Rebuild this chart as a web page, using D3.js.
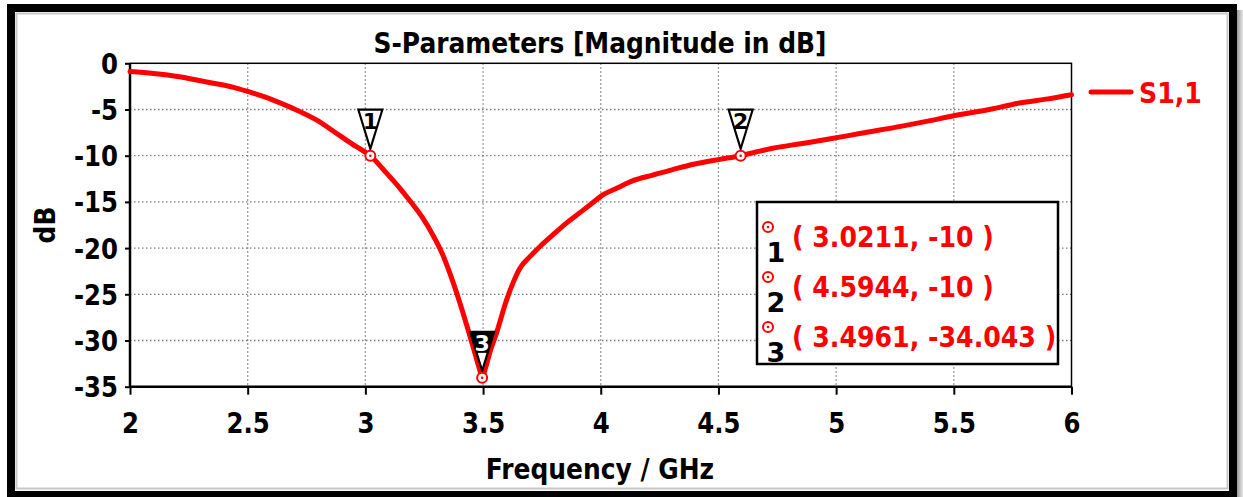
<!DOCTYPE html>
<html>
<head>
<meta charset="utf-8">
<script src="https://cdn.jsdelivr.net/npm/d3@7"></script>
<style>
  html, body { margin: 0; padding: 0; background: #fff; overflow: hidden; }
  svg text { font-family: "DejaVu Sans", Verdana, sans-serif; font-weight: bold; }
</style>
</head>
<body>
<svg id="chart" width="1243" height="497"></svg>
<script>
// S11 reflection coefficient sweep (frequency in GHz, magnitude in dB)
const freqGHz = [
  2.00, 2.10, 2.21, 2.32, 2.44, 2.50, 2.60, 2.69, 2.79, 2.89, 2.96, 3.0211,
  3.08, 3.146, 3.19, 3.24, 3.287, 3.33, 3.36, 3.40, 3.43, 3.46, 3.486, 3.4961,
  3.51, 3.53, 3.557, 3.60, 3.63, 3.656, 3.70, 3.741, 3.80, 3.854, 3.92, 3.98, 4.00,
  4.07, 4.137, 4.22, 4.306, 4.40, 4.505, 4.5944, 4.66, 4.73, 4.85, 4.97, 5.10,
  5.28, 5.40, 5.495, 5.65, 5.78, 5.90, 6.00
];
const s11dB = [
  -0.9, -1.1, -1.45, -2.0, -2.6, -3.05, -3.9, -4.85, -6.1, -7.8, -9.0, -10,
  -11.6, -13.5, -14.9, -16.6, -18.6, -20.8, -22.8, -25.8, -28.3, -30.9, -33.2, -34.043,
  -33.0, -31.2, -29.2, -25.6, -23.6, -22.2, -20.9, -19.85, -18.5, -17.3, -16.0, -14.8, -14.4,
  -13.5, -12.7, -12.1, -11.5, -10.9, -10.4, -10, -9.6, -9.2, -8.7, -8.2, -7.6,
  -6.8, -6.2, -5.7, -5.0, -4.3, -3.85, -3.4
];

const xTicks = [2, 2.5, 3, 3.5, 4, 4.5, 5, 5.5, 6];
const yTicks = [0, -5, -10, -15, -20, -25, -30, -35];

// Markers placed on the trace
const markerIds = ["1", "2", "3"];
const markerFreq = [3.0211, 4.5944, 3.4961];
const markerDb = [-10, -10, -34.043];

const titleText = "S-Parameters [Magnitude in dB]";
const xLabel = "Frequency / GHz";
const yLabel = "dB";
const seriesName = "S1,1";

const RED = "#ff0000";
const svg = d3.select("#chart");

// Horizontal squeeze so the wide sans face sets like a narrow bold UI face
function squeeze(sel, k) {
  sel.each(function () {
    const w = this.getComputedTextLength();
    this.setAttribute("textLength", (w * k).toFixed(1));
    this.setAttribute("lengthAdjust", "spacingAndGlyphs");
  });
}
const K = 0.87;

// Window-like frame
svg.append("rect").attr("width", 1243).attr("height", 497).attr("fill", "#fff");
const shade = svg.append("defs").append("linearGradient").attr("id", "shade");
shade.append("stop").attr("offset", "0%").attr("stop-color", "#9a9a9a");
shade.append("stop").attr("offset", "100%").attr("stop-color", "#e8e8e8");
svg.append("rect").attr("x", 1237).attr("y", 10).attr("width", 6).attr("height", 487).attr("fill", "url(#shade)");
svg.append("rect").attr("x", 16.5).attr("y", 13.5).attr("width", 1211).attr("height", 475)
  .attr("fill", "none").attr("stroke", "#c8c8c8").attr("stroke-width", 2);
svg.append("rect").attr("x", 11).attr("y", 8).attr("width", 1222).attr("height", 487)
  .attr("fill", "none").attr("stroke", "#000").attr("stroke-width", 8);

const x = d3.scaleLinear().domain([2, 6]).range([130, 1071.5]);
const y = d3.scaleLinear().domain([-35, 0]).range([386.7, 63.3]);
const [x0, x1] = x.range();
const [y0, y1] = y.range();

// Dotted grid
const grid = svg.append("g").attr("stroke", "#7a7a7a").attr("stroke-width", 1.3)
  .attr("stroke-dasharray", "1.5,2.5");
grid.selectAll("line.v").data(xTicks.filter(v => v > 2 && v < 6)).join("line")
  .attr("x1", d => x(d)).attr("x2", d => x(d)).attr("y1", y1).attr("y2", y0);
grid.selectAll("line.h").data(yTicks.filter(v => v < 0 && v > -35)).join("line")
  .attr("x1", x0).attr("x2", x1).attr("y1", d => y(d)).attr("y2", d => y(d));

// Axes
const yAxis = svg.append("g").attr("transform", `translate(${x0},0)`)
  .call(d3.axisLeft(y).tickValues(yTicks).tickFormat(d => String(d))
    .tickSize(5).tickSizeOuter(0).tickPadding(7));
const xAxis = svg.append("g").attr("transform", `translate(0,${y0})`)
  .call(d3.axisBottom(x).tickValues(xTicks).tickFormat(d => String(d))
    .tickSize(8).tickSizeOuter(0).tickPadding(18));
[yAxis, xAxis].forEach(a => {
  a.select(".domain").remove();
  a.selectAll(".tick line").attr("stroke", "#000").attr("stroke-width", 2);
  a.selectAll(".tick text").attr("fill", "#000").attr("font-size", 28)
    .style("font-family", "'DejaVu Sans', Verdana, sans-serif").style("font-weight", "bold");
});
yAxis.selectAll(".tick text").attr("dy", "0.36em");
squeeze(yAxis.selectAll(".tick text"), K);
squeeze(xAxis.selectAll(".tick text"), K);

// Plot box
svg.append("rect").attr("x", x0).attr("y", y1).attr("width", x1 - x0).attr("height", y0 - y1)
  .attr("fill", "none").attr("stroke", "#000").attr("stroke-width", 1.5);
svg.append("line").attr("x1", x0).attr("x2", x0).attr("y1", y1).attr("y2", y0)
  .attr("stroke", "#000").attr("stroke-width", 2.5);
svg.append("line").attr("x1", x0).attr("x2", x1).attr("y1", y0).attr("y2", y0)
  .attr("stroke", "#000").attr("stroke-width", 2.5);

// Trace
const line = d3.line().x((d, i) => x(freqGHz[i])).y((d, i) => y(s11dB[i])).curve(d3.curveMonotoneX);
svg.append("path").attr("d", line(s11dB)).attr("fill", "none").attr("stroke", RED)
  .attr("stroke-width", 5).attr("stroke-linejoin", "round").attr("stroke-linecap", "round");

// Marker flags (inverted triangles with id)
const clipDefs = svg.append("defs");
markerIds.forEach((id, i) => {
  const px = x(markerFreq[i]), py = y(markerDb[i]);
  const top = py - 46, tip = py - 7, hw = 12;
  const tri = `M${px - hw},${top}L${px + hw},${top}L${px},${tip}Z`;
  const g = svg.append("g");
  g.append("path").attr("d", tri).attr("fill", "#fff");
  if (i === 2) {
    clipDefs.append("clipPath").attr("id", "flag" + i).append("path").attr("d", tri);
    g.append("rect").attr("x", px - hw).attr("y", top).attr("width", 2 * hw).attr("height", 21)
      .attr("fill", "#000").attr("clip-path", `url(#flag${i})`);
  }
  g.append("path").attr("d", tri).attr("fill", "none").attr("stroke", "#000").attr("stroke-width", 2.2)
    .attr("stroke-linejoin", "miter");
  g.append("text").attr("x", px).attr("y", top + 19).attr("text-anchor", "middle")
    .attr("font-size", 22).attr("fill", i === 2 ? "#fff" : "#000").text(id);
});

// Marker points on the trace
markerIds.forEach((id, i) => {
  const px = x(markerFreq[i]), py = y(markerDb[i]);
  svg.append("circle").attr("cx", px).attr("cy", py).attr("r", 5)
    .attr("fill", "#fff").attr("stroke", RED).attr("stroke-width", 2);
  svg.append("circle").attr("cx", px).attr("cy", py).attr("r", 1.3).attr("fill", RED);
});

// Marker readout box
const box = svg.append("g");
box.append("rect").attr("x", 757).attr("y", 202).attr("width", 301).attr("height", 162)
  .attr("fill", "#fff").attr("stroke", "#000").attr("stroke-width", 2.5);
markerIds.forEach((id, i) => {
  const cy = 227 + i * 50;
  box.append("circle").attr("cx", 768).attr("cy", cy).attr("r", 5)
    .attr("fill", "#fff").attr("stroke", RED).attr("stroke-width", 2);
  box.append("circle").attr("cx", 768).attr("cy", cy).attr("r", 1.3).attr("fill", RED);
  box.append("text").attr("x", 776).attr("y", cy + 35).attr("text-anchor", "middle")
    .attr("font-size", 27).attr("fill", "#000").text(id);
  const t = box.append("text").attr("x", 792).attr("y", cy + 20).attr("font-size", 29)
    .attr("fill", RED).text(`( ${markerFreq[i]}, ${markerDb[i]} )`);
  squeeze(t, K);
});

// Legend
svg.append("line").attr("x1", 1091).attr("x2", 1131).attr("y1", 92).attr("y2", 92)
  .attr("stroke", RED).attr("stroke-width", 5).attr("stroke-linecap", "round");
squeeze(svg.append("text").attr("x", 1139).attr("y", 103).attr("font-size", 29)
  .attr("fill", RED).text(seriesName), K);

// Titles
squeeze(svg.append("text").attr("x", 600).attr("y", 53).attr("text-anchor", "middle")
  .attr("font-size", 29).attr("fill", "#000").text(titleText), 0.86);
squeeze(svg.append("text").attr("x", 600).attr("y", 479).attr("text-anchor", "middle")
  .attr("font-size", 29).attr("fill", "#000").text(xLabel), 0.86);
squeeze(svg.append("text").attr("transform", "translate(55,225) rotate(-90)").attr("text-anchor", "middle")
  .attr("font-size", 29).attr("fill", "#000").text(yLabel), 0.86);
</script>
</body>
</html>
